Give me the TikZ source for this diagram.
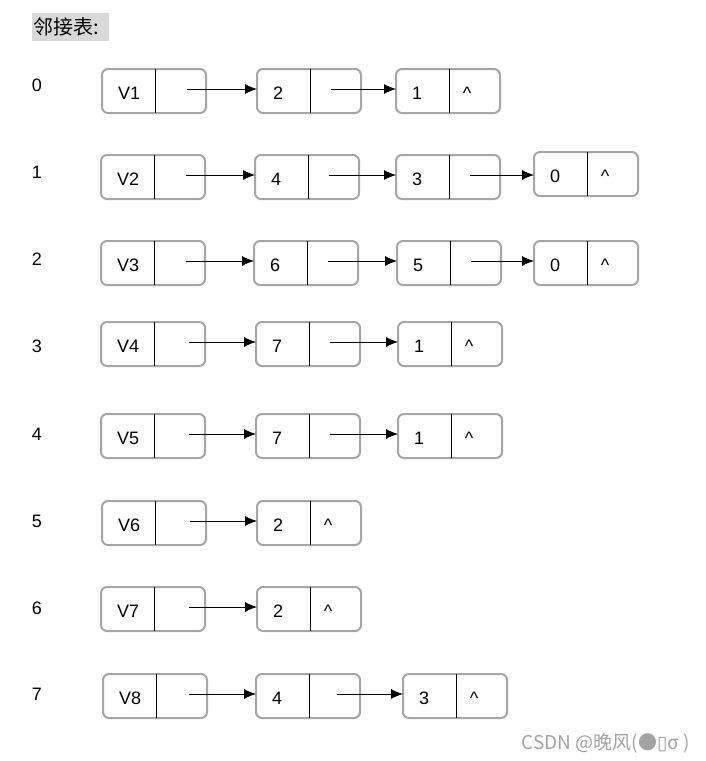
\documentclass[tikz,border=0pt]{standalone}
\usepackage{fontspec}
\setmainfont{Liberation Sans}
\newfontfamily\cjkfont{Noto Sans CJK SC}
\newfontfamily\symfont{DejaVu Sans}
\usepackage{tikz}
\usetikzlibrary{arrows.meta, calc}

\definecolor{boxgray}{HTML}{A6A6A6}
\definecolor{hdrgray}{HTML}{D9D9D9}
\definecolor{markgray}{HTML}{A3A3A3}

\tikzset{
  cell/.style={draw=boxgray, line width=2pt, rounded corners=6pt, minimum width=104pt,
    minimum height=44pt, inner sep=0pt, outer sep=0pt, anchor=north west},
  txt/.style={anchor=base west, inner sep=0pt},
  nxt/.style={anchor=base, inner sep=0pt},
  idx/.style={anchor=base, inner sep=0pt},
  link/.style={-{Latex[length=12pt,width=10pt]}, line width=0.9pt}
}

% list node: [pointer offset] name, left, top, data, next field
\newcommand{\lnode}[6][74]{%
  \node[cell] (#2) at (#3,#4) {};
  \draw[line width=0.9pt] ($(#2.north west)+(53,0)$) -- ($(#2.south west)+(53,0)$);
  \node[txt] (#2-d) at ($(#2.west)+(16,8)$) {#5};
  \node[nxt] (#2-n) at ($(#2.west)+(71,8)$) {#6};
  \coordinate (#2-p) at ($(#2.west)+(#1,-2)$);
}
\newcommand{\nul}{\textasciicircum}

\begin{document}
\begin{tikzpicture}[x=1pt, y=-1pt, font=\fontsize{18}{21}\selectfont]
  \useasboundingbox (0,0) rectangle (705,761);

  % header
  \fill[hdrgray] (32,13) rectangle (109,41);
  \node[anchor=west, inner sep=0pt, font=\cjkfont\fontsize{20}{24}\selectfont] (hdr) at (33,27) {邻接表:};

  % vertex indices
  \foreach \i/\y in {0/91, 1/178, 2/265, 3/352, 4/440, 5/527, 6/614, 7/700}
    \node[idx] (i\i) at (37,\y) {\i};

  % row 0
  \lnode[85]{n0v}{102}{69}{V1}{}
  \lnode{n0a}{257}{69}{2}{}
  \lnode{n0b}{396}{69}{1}{\nul}
  \draw[link] (n0v-p) -- (n0v-p -| n0a.west);
  \draw[link] (n0a-p) -- (n0a-p -| n0b.west);

  % row 1
  \lnode[85]{n1v}{101}{155}{V2}{}
  \lnode{n1a}{255}{155}{4}{}
  \lnode{n1b}{396}{155}{3}{}
  \lnode{n1c}{534}{152}{0}{\nul}
  \draw[link] (n1v-p) -- (n1v-p -| n1a.west);
  \draw[link] (n1a-p) -- (n1a-p -| n1b.west);
  \draw[link] (n1b-p) -- (n1b-p -| n1c.west);

  % row 2
  \lnode[85]{n2v}{101}{241}{V3}{}
  \lnode{n2a}{254}{241}{6}{}
  \lnode{n2b}{397}{241}{5}{}
  \lnode{n2c}{534}{241}{0}{\nul}
  \draw[link] (n2v-p) -- (n2v-p -| n2a.west);
  \draw[link] (n2a-p) -- (n2a-p -| n2b.west);
  \draw[link] (n2b-p) -- (n2b-p -| n2c.west);

  % row 3
  \lnode[88]{n3v}{101}{322}{V4}{}
  \lnode{n3a}{256}{322}{7}{}
  \lnode{n3b}{398}{322}{1}{\nul}
  \draw[link] (n3v-p) -- (n3v-p -| n3a.west);
  \draw[link] (n3a-p) -- (n3a-p -| n3b.west);

  % row 4
  \lnode[88]{n4v}{101}{414}{V5}{}
  \lnode{n4a}{256}{414}{7}{}
  \lnode{n4b}{398}{414}{1}{\nul}
  \draw[link] (n4v-p) -- (n4v-p -| n4a.west);
  \draw[link] (n4a-p) -- (n4a-p -| n4b.west);

  % row 5
  \lnode[88]{n5v}{102}{501}{V6}{}
  \lnode{n5a}{257}{501}{2}{\nul}
  \draw[link] (n5v-p) -- (n5v-p -| n5a.west);

  % row 6
  \lnode[88]{n6v}{101}{587}{V7}{}
  \lnode{n6a}{257}{587}{2}{\nul}
  \draw[link] (n6v-p) -- (n6v-p -| n6a.west);

  % row 7
  \lnode[86]{n7v}{103}{674}{V8}{}
  \lnode[81]{n7a}{256}{674}{4}{}
  \lnode{n7b}{403}{674}{3}{\nul}
  \draw[link] (n7v-p) -- (n7v-p -| n7a.west);
  \draw[link] (n7a-p) -- (n7a-p -| n7b.west);

  % watermark
  \node[anchor=base east, inner sep=0pt, text=markgray, font=\cjkfont\fontsize{19}{22}\selectfont]
    (mark) at (690,749) {CSDN @晚风(●{\symfont ▯}σ )};
\end{tikzpicture}
\end{document}
